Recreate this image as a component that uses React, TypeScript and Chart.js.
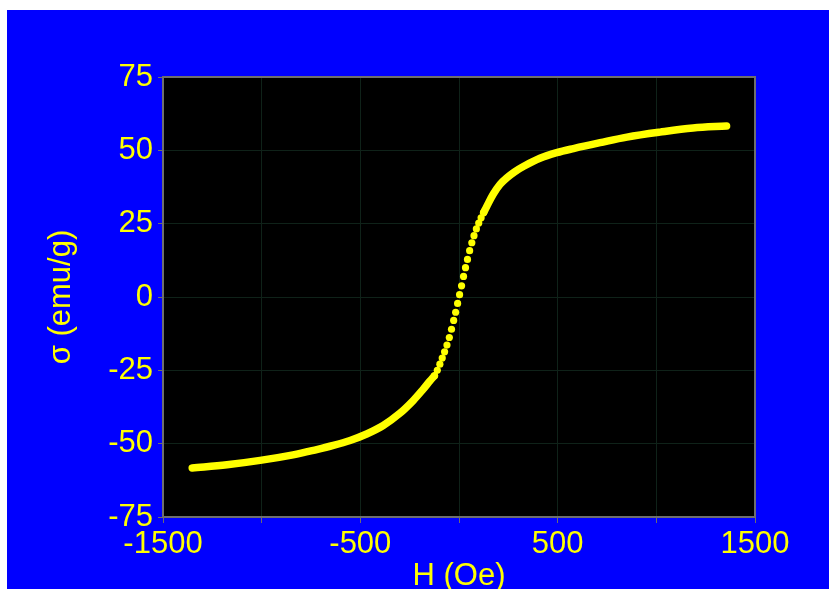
import React, { useEffect, useRef } from "react";
import { Chart, registerables } from "chart.js";

Chart.register(...registerables);

// Negative-field wing (dense measurement points, rendered as a thick line)
const negWingH = [-1352, -1176, -1008, -841, -721, -637, -552, -468, -384, -299, -232, -181, -147, -125];
const negWingS = [-58.3, -57.2, -55.7, -53.8, -52.0, -50.6, -48.9, -46.7, -43.8, -39.6, -35.3, -31.4, -28.6, -26.9];

// Central steep region (individual points visible)
const midH = [-125, -110, -97, -85, -73, -61, -49, -38, -27, -17, -7, 3, 13, 23, 33, 43, 54, 65, 76, 88, 100, 112, 125];
const midS = [-26.9, -25.0, -22.9, -20.8, -18.7, -16.4, -13.8, -11.0, -8.0, -5.2, -2.2, 0.8, 3.8, 7.0, 10.0, 12.8, 15.8, 18.5, 20.9, 23.2, 25.2, 27.0, 28.8];

// Positive-field wing
const posWingH = [125, 140, 174, 208, 242, 280, 326, 410, 495, 580, 715, 851, 1019, 1186, 1356];
const posWingS = [28.8, 30.8, 35.1, 38.4, 40.6, 42.6, 44.5, 47.3, 49.2, 50.6, 52.6, 54.5, 56.2, 57.6, 58.3];

const xTickLabels = [-1500, -500, 500, 1500];
const xTitle = "H (Oe)";
const yTitle = "σ (emu/g)";

const YELLOW = "#ffff00";
const FONT = "'Liberation Sans', Arial, sans-serif";

const toPts = (xs: number[], ys: number[]) => xs.map((x, i) => ({ x, y: ys[i] }));

const plotBg = {
  id: "plotBg",
  beforeDraw(chart: any) {
    const { ctx, chartArea: a } = chart;
    ctx.save();
    ctx.fillStyle = "#000000";
    ctx.fillRect(a.left, a.top, a.right - a.left, a.bottom - a.top);
    ctx.restore();
  },
  afterDatasetsDraw(chart: any) {
    const { ctx, chartArea: a } = chart;
    ctx.save();
    ctx.strokeStyle = "#6e6e6e";
    ctx.lineWidth = 2;
    ctx.strokeRect(a.left, a.top, a.right - a.left, a.bottom - a.top);
    ctx.restore();
  },
};

export default function App() {
  const ref = useRef<HTMLCanvasElement>(null);

  useEffect(() => {
    if (!ref.current) return;
    const lineDs = (data: any[]) => ({
      data,
      showLine: true,
      borderColor: YELLOW,
      backgroundColor: YELLOW,
      borderWidth: 7.5,
      borderCapStyle: "round" as const,
      borderJoinStyle: "round" as const,
      tension: 0.35,
      pointRadius: 0,
    });
    const chart = new Chart(ref.current, {
      type: "scatter",
      data: {
        datasets: [
          lineDs(toPts(negWingH, negWingS)),
          {
            data: toPts(midH, midS),
            showLine: false,
            pointRadius: 3.6,
            pointBorderWidth: 0,
            backgroundColor: YELLOW,
            borderColor: YELLOW,
          },
          lineDs(toPts(posWingH, posWingS)),
        ],
      },
      options: {
        animation: false,
        responsive: false,
        layout: { padding: { left: 0, right: 74, top: 67, bottom: 0 } },
        plugins: { legend: { display: false }, tooltip: { enabled: false } },
        scales: {
          x: {
            type: "linear",
            min: -1500,
            max: 1500,
            afterFit: (s: any) => {
              s.height = 72;
            },
            border: { display: false },
            grid: {
              color: "#0f2219",
              tickColor: "#6e6e6e",
              tickLength: 6,
              lineWidth: 1,
            },
            ticks: {
              stepSize: 500,
              color: YELLOW,
              padding: 3,
              maxRotation: 0,
              autoSkip: false,
              font: { family: FONT, size: 31 },
              callback: (v: any) => (xTickLabels.includes(Number(v)) ? String(v) : ""),
            },
            title: {
              display: true,
              text: xTitle,
              color: YELLOW,
              padding: { top: 0, bottom: 0 },
              font: { family: FONT, size: 31, lineHeight: 0.84 },
            },
          },
          y: {
            type: "linear",
            min: -75,
            max: 75,
            afterFit: (s: any) => {
              s.width = 156;
            },
            border: { display: false },
            grid: {
              color: "#0f2219",
              tickColor: "#6e6e6e",
              tickLength: 5,
              lineWidth: 1,
            },
            ticks: {
              stepSize: 25,
              color: YELLOW,
              padding: 5,
              font: { family: FONT, size: 31 },
            },
            title: {
              display: true,
              text: yTitle,
              color: YELLOW,
              padding: { top: 36, bottom: 0 },
              font: { family: FONT, size: 31, lineHeight: 1.2 },
            },
          },
        },
      },
      plugins: [plotBg],
    });
    return () => chart.destroy();
  }, []);

  return (
    <div
      style={{
        position: "fixed",
        left: 7,
        top: 10,
        width: 822,
        height: 579,
        background: "#0000ff",
      }}
    >
      <canvas ref={ref} width={822} height={579} style={{ width: 822, height: 579, display: "block" }} />
    </div>
  );
}
